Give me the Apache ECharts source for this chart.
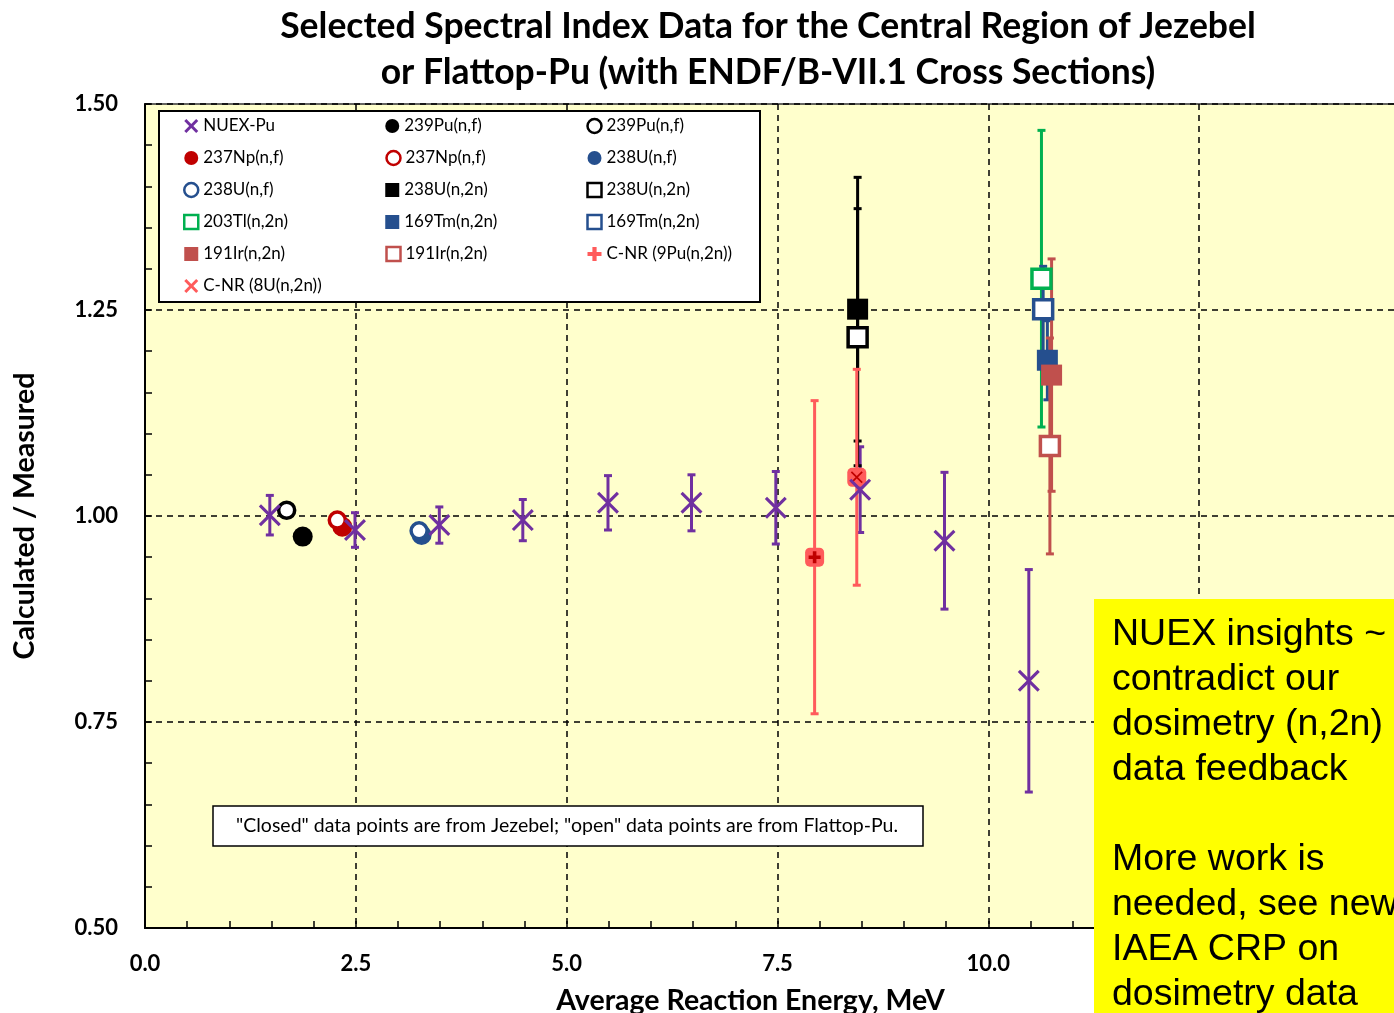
<!DOCTYPE html>
<html>
<head>
<meta charset="utf-8">
<script src="https://cdn.jsdelivr.net/npm/echarts@6/dist/echarts.min.js"></script>
<style>
  html, body { margin: 0; padding: 0; background: #ffffff; }
  #chart { width: 1394px; height: 1013px; }
</style>
</head>
<body>
<div id="chart"></div>
<script>
// ---- NUEX-Pu spectral indices: mean energy (MeV), C/M, 1-sigma ----
const nuexEnergy = [1.48, 2.49, 3.49, 4.48, 5.49, 6.48, 7.48, 8.48, 9.48, 10.48];
const nuexRatio  = [1.001, 0.983, 0.989, 0.995, 1.016, 1.016, 1.010, 1.032, 0.970, 0.800];
const nuexUnc    = [0.024, 0.021, 0.022, 0.025, 0.033, 0.034, 0.044, 0.052, 0.083, 0.135];

// ---- Reaction-rate ratios (Jezebel = closed, Flattop-Pu = open) ----
const reactionLabel = [
  '239Pu(n,f)', '239Pu(n,f)', '237Np(n,f)', '237Np(n,f)', '238U(n,f)', '238U(n,f)',
  '238U(n,2n)', '238U(n,2n)', '203Tl(n,2n)', '169Tm(n,2n)', '169Tm(n,2n)',
  '191Ir(n,2n)', '191Ir(n,2n)', 'C-NR (9Pu(n,2n))', 'C-NR (8U(n,2n))'
];
const reactionAssembly = [
  'Jezebel', 'Flattop-Pu', 'Jezebel', 'Flattop-Pu', 'Jezebel', 'Flattop-Pu',
  'Jezebel', 'Flattop-Pu', 'Flattop-Pu', 'Jezebel', 'Flattop-Pu',
  'Jezebel', 'Flattop-Pu', 'Jezebel', 'Jezebel'
];
const reactionEnergy = [1.87, 1.68, 2.34, 2.28, 3.28, 3.25, 8.45, 8.45, 10.63, 10.70, 10.65, 10.75, 10.73, 7.94, 8.44];
const reactionRatio  = [0.975, 1.007, 0.987, 0.995, 0.977, 0.982, 1.251, 1.217, 1.288, 1.189, 1.251, 1.171, 1.085, 0.950, 1.047];
const reactionUnc    = [0, 0, 0, 0, 0, 0, 0.160, 0.156, 0.180, 0.048, 0.052, 0.141, 0.131, 0.190, 0.131];

// ---- axis ticks ----
const xTicks = { min: 0, max: 15, step: 2.5 };
const yTicks = { min: 0.5, max: 1.5, step: 0.25 };

// ---- styling ----
const FONT = 'Lato';
const PURPLE = '#7030A0', RED = '#C00000', NAVY = '#254F8E', GREEN = '#00B050',
      BRICK = '#C0504D', SALMON = '#FF5B5B';
const X_PATH = 'path://M2,0 L10,8 L18,0 L20,2 L12,10 L20,18 L18,20 L10,12 L2,20 L0,18 L8,10 L0,2 Z';
const X_BOLD = 'path://M3,0 L10,7 L17,0 L20,3 L13,10 L20,17 L17,20 L10,13 L3,20 L0,17 L7,10 L0,3 Z';
const PLUS_PATH = 'path://M7,0 L13,0 L13,7 L20,7 L20,13 L13,13 L13,20 L7,20 L7,13 L0,13 L0,7 L7,7 Z';

const reactionStyle = [
  { symbol: 'circle', size: 20, color: '#000' },
  { symbol: 'circle', size: 16, color: '#000', open: true },
  { symbol: 'circle', size: 20, color: RED },
  { symbol: 'circle', size: 16, color: RED, open: true },
  { symbol: 'circle', size: 20, color: NAVY },
  { symbol: 'circle', size: 16, color: NAVY, open: true },
  { symbol: 'rect', size: 21, color: '#000', bar: '#000' },
  { symbol: 'rect', size: 19, color: '#000', open: true, bar: '#000' },
  { symbol: 'rect', size: 19, color: GREEN, open: true, bar: GREEN },
  { symbol: 'rect', size: 21, color: NAVY, bar: NAVY },
  { symbol: 'rect', size: 19, color: NAVY, open: true, bar: NAVY },
  { symbol: 'rect', size: 21, color: BRICK, bar: BRICK },
  { symbol: 'rect', size: 19, color: BRICK, open: true, bar: BRICK },
  { symbol: 'roundRect', size: 19, color: SALMON, bar: SALMON, inner: PLUS_PATH },
  { symbol: 'roundRect', size: 19, color: SALMON, bar: SALMON, inner: X_PATH }
];

// vertical error bar with caps, placed through the axis scales
function errorBar(color, width, cap) {
  return function (params, api) {
    const x = api.value(0), y = api.value(1), u = api.value(2);
    if (!u) return null;
    const t = api.coord([x, y + u]);
    const b = api.coord([x, y - u]);
    const st = { stroke: color, lineWidth: width };
    return {
      type: 'group',
      children: [
        { type: 'line', shape: { x1: t[0], y1: t[1], x2: b[0], y2: b[1] }, style: st },
        { type: 'line', shape: { x1: t[0] - cap, y1: t[1], x2: t[0] + cap, y2: t[1] }, style: st },
        { type: 'line', shape: { x1: b[0] - cap, y1: b[1], x2: b[0] + cap, y2: b[1] }, style: st }
      ]
    };
  };
}

const seriesName = i => reactionLabel[i] + ' \u00b7 ' + reactionAssembly[i];
const nuexName = 'NUEX-Pu \u00b7 NUEX';

const series = [];
const legendItems = [{ name: nuexName, icon: X_BOLD }];

// error bars first so the markers sit on top
series.push({
  name: 'NUEX-Pu bars', type: 'custom', z: 2, silent: true,
  renderItem: errorBar(PURPLE, 3, 4),
  encode: { x: 0, y: 1 },
  data: nuexEnergy.map((e, i) => [e, nuexRatio[i], nuexUnc[i]])
});
reactionLabel.forEach((lab, i) => {
  const s = reactionStyle[i];
  if (!reactionUnc[i]) return;
  series.push({
    name: seriesName(i) + ' bars', type: 'custom', z: 2, silent: true,
    renderItem: errorBar(s.bar, 3, 4),
    encode: { x: 0, y: 1 },
    data: [[reactionEnergy[i], reactionRatio[i], reactionUnc[i]]]
  });
});

series.push({
  name: nuexName, type: 'scatter', z: 4,
  symbol: X_PATH, symbolSize: 22,
  itemStyle: { color: PURPLE, opacity: 1 },
  data: nuexEnergy.map((e, i) => [e, nuexRatio[i]])
});
reactionLabel.forEach((lab, i) => {
  const s = reactionStyle[i];
  const name = seriesName(i);
  const item = { name: name };
  if (s.open) {
    item.itemStyle = { color: '#fff', borderColor: s.color, borderWidth: 2.5 };
    item.icon = s.symbol;
  } else if (s.inner) {
    item.icon = s.inner === X_PATH ? X_BOLD : PLUS_PATH;
  }
  legendItems.push(item);
  series.push({
    name: name, type: 'scatter', z: 3,
    symbol: s.symbol, symbolSize: s.size,
    itemStyle: s.open
      ? { color: '#fff', borderColor: s.color, borderWidth: 3.5, opacity: 1 }
      : { color: s.color, opacity: 1 },
    data: [[reactionEnergy[i], reactionRatio[i]]]
  });
  if (s.inner) {
    series.push({
      name: name + ' mark', type: 'scatter', z: 3, silent: true,
      symbol: s.inner, symbolSize: 12,
      itemStyle: { color: RED, opacity: 1 },
      data: [[reactionEnergy[i], reactionRatio[i]]]
    });
  }
});

const chart = echarts.init(document.getElementById('chart'), null, { renderer: 'canvas' });

const dashed = { color: '#000', type: [6, 5], width: 1.5 };
const tickLabel = { color: '#000', fontFamily: FONT, fontWeight: 'bold', fontSize: 22 };
const axisTitle = { color: '#000', fontFamily: FONT, fontWeight: 'bold', fontSize: 28.5 };

chart.setOption({
  animation: false,
  backgroundColor: '#ffffff',
  grid: {
    left: 145, top: 104, width: 1265, height: 824,
    outerBoundsMode: 'none', containLabel: false,
    show: true, backgroundColor: '#FFFFCC', borderColor: '#333', borderWidth: 1.5
  },
  xAxis: {
    type: 'value', min: xTicks.min, max: xTicks.max, interval: xTicks.step,
    axisLine: { show: true, onZero: false, lineStyle: { color: '#000', width: 2 } },
    axisTick: { show: true, inside: true, length: 7, lineStyle: { color: '#000', width: 1.5 } },
    minorTick: { show: true, splitNumber: 5, length: 7, lineStyle: { color: '#000', width: 1.5 } },
    splitLine: { show: true, lineStyle: dashed },
    axisLabel: Object.assign({ margin: 25, formatter: v => v.toFixed(1) }, tickLabel),
    name: 'Average Reaction Energy, MeV', nameLocation: 'middle', nameGap: 58,
    nameTextStyle: Object.assign({ padding: [0, 54, 0, 0] }, axisTitle)
  },
  yAxis: {
    type: 'value', min: yTicks.min, max: yTicks.max, interval: yTicks.step,
    axisLine: { show: true, onZero: false, lineStyle: { color: '#000', width: 2 } },
    axisTick: { show: true, inside: true, length: 7, lineStyle: { color: '#000', width: 1.5 } },
    minorTick: { show: true, splitNumber: 5, length: 7, lineStyle: { color: '#000', width: 1.5 } },
    splitLine: { show: true, lineStyle: dashed },
    axisLabel: Object.assign({ margin: 27, formatter: v => v.toFixed(2) }, tickLabel),
    name: 'Calculated / Measured', nameLocation: 'middle', nameGap: 106,
    nameTextStyle: axisTitle
  },
  legend: {
    data: legendItems,
    left: 183, top: 115, width: 620,
    orient: 'horizontal', padding: 0,
    itemWidth: 14, itemHeight: 14, itemGap: 10,
    formatter: n => n.split(' \u00b7 ')[0],
    textStyle: { color: '#000', fontFamily: FONT, fontSize: 17, width: 172, lineHeight: 22 },
    selectedMode: false
  },
  graphic: [
    {
      type: 'text', x: 768, y: 27, z: 10,
      style: { text: 'Selected Spectral Index Data for the Central Region of Jezebel',
               fill: '#000', font: 'bold 35.5px ' + FONT, align: 'center', verticalAlign: 'middle' }
    },
    {
      type: 'text', x: 768, y: 73, z: 10,
      style: { text: 'or Flattop-Pu (with ENDF/B-VII.1 Cross Sections)',
               fill: '#000', font: 'bold 35.5px ' + FONT, align: 'center', verticalAlign: 'middle' }
    },
    {
      type: 'rect', z: 3, shape: { x: 159, y: 111, width: 601, height: 191 },
      style: { fill: '#fff', stroke: '#000', lineWidth: 2 }
    },
    {
      type: 'rect', z: 3, shape: { x: 213, y: 806, width: 710, height: 40 },
      style: { fill: '#fff', stroke: '#000', lineWidth: 1.5 }
    },
    {
      type: 'text', z: 4, x: 567, y: 826,
      style: { text: '"Closed" data points are from Jezebel; "open" data points are from Flattop-Pu.',
               fill: '#000', font: '19.5px ' + FONT, align: 'center', verticalAlign: 'middle' }
    },
    {
      type: 'rect', z: 20, shape: { x: 1094, y: 599, width: 320, height: 430 },
      style: { fill: '#FFFF00' }
    },
    {
      type: 'text', z: 21, x: 1112, y: 612,
      style: {
        text: 'NUEX insights ~\ncontradict our\ndosimetry (n,2n)\ndata feedback\n\nMore work is\nneeded, see new\nIAEA CRP on\ndosimetry data',
        fill: '#000', font: '37.5px "Liberation Sans"', lineHeight: 45, align: 'left', verticalAlign: 'top'
      }
    }
  ],
  series: series
});
</script>
</body>
</html>
